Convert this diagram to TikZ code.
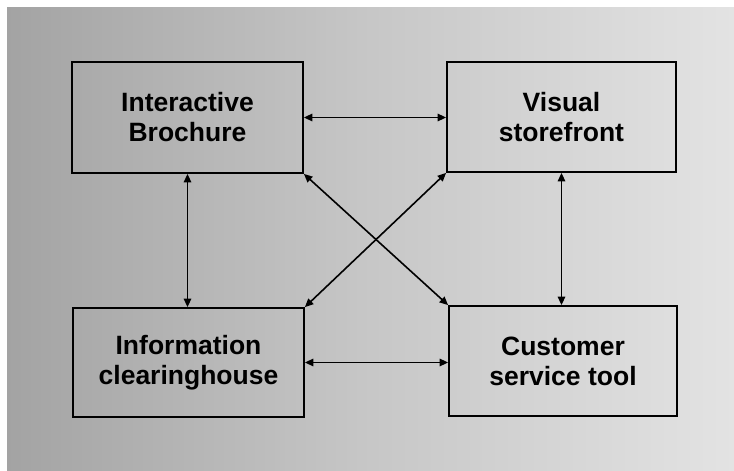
\documentclass[tikz,border=0pt]{standalone}
\usepackage{fontspec}
\setmainfont{Liberation Sans}
\usetikzlibrary{arrows.meta}
\begin{document}
\begin{tikzpicture}[x=1bp,y=-1bp,
  box/.style={draw=black,line width=1.8bp,rectangle,inner sep=0pt,align=center,
    font=\fontsize{26.5bp}{30bp}\selectfont\bfseries},
  link/.style={line width=1.6bp,{Triangle[length=8.5bp,width=7.5bp]}-{Triangle[length=8.5bp,width=7.5bp]}}]
\useasboundingbox (0,0) rectangle (734,471);
\fill[white] (0,0) rectangle (734,471);
\shade[left color=black!36,right color=black!11,middle color=black!22] (7,8) rectangle (734,471);
\node[box,minimum width=231bp,minimum height=111bp] (ib) at (187.5,117.5) {Interactive\\Brochure};
\node[box,minimum width=229bp,minimum height=110bp] (vs) at (561.5,117) {Visual\\storefront};
\node[box,minimum width=231bp,minimum height=109bp] (ic) at (188.5,362.5) {Information\\clearinghouse};
\node[box,minimum width=228bp,minimum height=110bp] (cs) at (563,361) {Customer\\service tool};
\draw[link] (ib.east) -- (ib.east -| vs.west);
\draw[link] (ic.east) -- (ic.east -| cs.west);
\draw[link] (ib.south) -- (ib.south |- ic.north);
\draw[link] (vs.south) -- (vs.south |- cs.north);
\draw[link] (ib.south east) -- (cs.north west);
\draw[link] (vs.south west) -- (ic.north east);
\end{tikzpicture}
\end{document}
